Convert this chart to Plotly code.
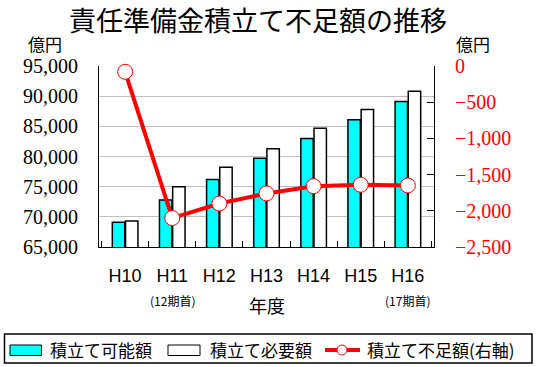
import plotly.graph_objects as go

# ---- data ----
years = ["H10", "H11", "H12", "H13", "H14", "H15", "H16"]
possible = [69100, 72800, 76200, 79700, 83000, 86100, 89100]      # 積立て可能額
required = [69300, 75000, 78200, 81300, 84700, 87800, 90800]      # 積立て必要額
shortfall = [-80, -2100, -1900, -1760, -1660, -1640, -1650]       # 積立て不足額(右軸)
left_ticks = [65000, 70000, 75000, 80000, 85000, 90000, 95000]
right_ticks = [-2500, -2000, -1500, -1000, -500, 0]
sub_labels = {"H11": "(12期首)", "H16": "(17期首)"}
series_names = ["積立て可能額", "積立て必要額", "積立て不足額(右軸)"]

W, H = 544, 367
ML, MR, MT, MB = 99, 110, 66, 120
PW, PH = W - ML - MR, H - MT - MB

def px_x(x):
    return (x - ML) / PW

def px_y(y):
    return (H - MB - y) / PH

CJK = "Noto Sans CJK JP"
RED = "#FF0000"
CYAN = "#00FFFF"

fig = go.Figure()
fig.add_trace(go.Bar(x=years, y=possible, name=series_names[0],
                     marker=dict(color=CYAN, line=dict(color="black", width=1.5))))
fig.add_trace(go.Bar(x=years, y=required, name=series_names[1],
                     marker=dict(color="white", line=dict(color="black", width=1.5))))
fig.add_trace(go.Scatter(x=years, y=shortfall, name=series_names[2], yaxis="y2",
                         mode="lines+markers", cliponaxis=False,
                         line=dict(color=RED, width=4),
                         marker=dict(symbol="circle", size=15, color="white",
                                     line=dict(color=RED, width=1))))

fig.update_layout(
    width=W, height=H,
    margin=dict(l=ML, r=MR, t=MT, b=MB),
    paper_bgcolor="white", plot_bgcolor="white",
    showlegend=False,
    barmode="group", bargap=0.44, bargroupgap=0.06,
    font=dict(family=CJK, color="black"),
    title=dict(text="責任準備金積立て不足額の推移", x=258 / W, xanchor="center",
               y=1 - 22 / H, yanchor="middle", yref="container",
               font=dict(family=CJK, size=27, color="black")),
    xaxis=dict(type="category", showline=True, linecolor="black", linewidth=1,
               ticks="inside", ticklen=6, tickcolor="black", tickson="boundaries",
               showgrid=False, ticklabelstandoff=12,
               tickfont=dict(family="Liberation Sans", size=18, color="black")),
    yaxis=dict(range=[65000, 95000], tickvals=left_ticks, tickformat=",",
               showline=True, linecolor="black", linewidth=1,
               showgrid=True, gridcolor="#c0c0c0", gridwidth=1, zeroline=False,
               ticks="", ticklabelstandoff=16,
               tickfont=dict(family="'Liberation Serif', 'DejaVu Serif', serif", size=20, color="black")),
    yaxis2=dict(range=[-2500, 0], tickvals=right_ticks, tickformat=",",
                overlaying="y", side="right", anchor="x",
                showline=True, linecolor="black", linewidth=1,
                showgrid=False, zeroline=False,
                ticks="inside", ticklen=7, tickcolor="black", ticklabelstandoff=16,
                tickfont=dict(family="'Liberation Serif', 'DejaVu Serif', serif", size=20, color=RED)),
)

ann = []
ann.append(dict(text="億円", x=px_x(45), y=px_y(43), xref="paper", yref="paper",
                showarrow=False, font=dict(family=CJK, size=17, color="black"),
                xanchor="center", yanchor="middle"))
ann.append(dict(text="億円", x=px_x(473), y=px_y(43), xref="paper", yref="paper",
                showarrow=False, font=dict(family=CJK, size=17, color="black"),
                xanchor="center", yanchor="middle"))
for cat, lab in sub_labels.items():
    ann.append(dict(text=lab, x=cat, y=px_y(300), xref="x", yref="paper",
                    showarrow=False, font=dict(family=CJK, size=12, color="black"),
                    xanchor="center", yanchor="middle"))
ann.append(dict(text="年度", x=px_x(267), y=px_y(305), xref="paper", yref="paper",
                showarrow=False, font=dict(family=CJK, size=18, color="black"),
                xanchor="center", yanchor="middle"))

# legend (drawn manually to match the reference's wide swatches)
leg_y = 349
text_x = [48, 208, 365]
for name, tx in zip(series_names, text_x):
    ann.append(dict(text=name, x=px_x(tx), y=px_y(leg_y), xref="paper", yref="paper",
                    showarrow=False, font=dict(family=CJK, size=17, color="black"),
                    xanchor="left", yanchor="middle"))
fig.update_layout(annotations=ann)

shapes = [
    dict(type="rect", xref="paper", yref="paper", x0=px_x(4.5), x1=px_x(532),
         y0=px_y(363), y1=px_y(334), line=dict(color="black", width=1.5), fillcolor="white",
         layer="below"),
    dict(type="rect", xref="paper", yref="paper", x0=px_x(10), x1=px_x(41.5),
         y0=px_y(355.5), y1=px_y(345), line=dict(color="black", width=1), fillcolor=CYAN),
    dict(type="rect", xref="paper", yref="paper", x0=px_x(168), x1=px_x(200),
         y0=px_y(355.5), y1=px_y(345), line=dict(color="black", width=1), fillcolor="white"),
    dict(type="line", xref="paper", yref="paper", x0=px_x(325), x1=px_x(360),
         y0=px_y(350), y1=px_y(350), line=dict(color=RED, width=4)),
    dict(type="circle", xref="paper", yref="paper", x0=px_x(337), x1=px_x(347),
         y0=px_y(355), y1=px_y(345), line=dict(color=RED, width=1), fillcolor="white"),
]
fig.update_layout(shapes=shapes)

fig.write_html("out.html", config={"displayModeBar": False},
               post_script="document.body.style.margin='0';document.body.style.padding='0';")
